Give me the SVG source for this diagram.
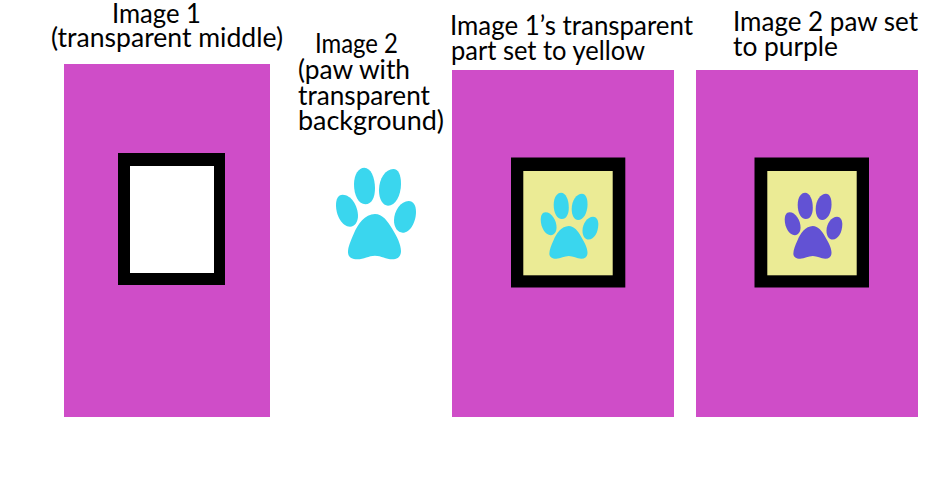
<svg xmlns="http://www.w3.org/2000/svg" width="936" height="495" viewBox="0 0 936 495">
<style>
.bg{fill:#cf4dc8}
.fr{fill:#000}
.y{fill:#ebeb95}
.t{font-family:"Lato","Open Sans",sans-serif;font-size:26px;fill:#000}
.cy{fill:#3ad6ee}
.pu{fill:#6252d4}
</style>
<defs>
<g id="paw">
<path d="M133 38C116 38 102 58 102 88C102 122 116 148 136 148C155 148 165 128 165 100C165 66 152 38 133 38Z"/>
<path d="M220 42C197 42 177 70 177 106C177 133 188 152 204 152C226 152 243 122 243 86C243 60 235 42 220 42Z"/>
<path d="M68 119C54 119 48 133 48 150C48 182 66 215 90 215C105 215 114 200 114 183C114 152 93 119 68 119Z"/>
<path d="M266 138C243 138 222 167 222 196C222 218 233 233 248 233C270 233 288 202 288 170C288 151 280 138 266 138Z"/>
<path d="M165 177C135 178 113 207 101 237C92 258 84 275 84 292C84 306 95 313 112 313C132 313 146 302 165 302C184 302 198 313 217 313C234 313 243 303 243 288C243 268 230 243 217 222C204 199 187 177 165 177Z"/>
</g>
</defs>
<rect width="936" height="495" fill="#fff"/>
<g id="image1">
<rect class="bg" x="64" y="64" width="206" height="353"/>
<rect class="fr" x="118" y="153" width="107" height="132"/>
<rect x="130" y="166" width="84" height="107" fill="#fff"/>
<text class="t" x="112" y="23" textLength="89" lengthAdjust="spacingAndGlyphs">Image 1</text>
<text class="t" x="51" y="47" textLength="232" lengthAdjust="spacingAndGlyphs">(transparent middle)</text>
</g>
<g id="image2">
<use href="#paw" class="cy" transform="translate(320 155) scale(.3333)"/>
<text class="t" x="315" y="53" textLength="83" lengthAdjust="spacingAndGlyphs">Image 2</text>
<text class="t" x="298" y="79" textLength="112" lengthAdjust="spacingAndGlyphs">(paw with</text>
<text class="t" x="298" y="105" textLength="132" lengthAdjust="spacingAndGlyphs">transparent</text>
<text class="t" x="298" y="130" textLength="146" lengthAdjust="spacingAndGlyphs">background)</text>
</g>
<g id="image3">
<rect class="bg" x="452" y="70" width="222" height="347"/>
<rect class="fr" x="511" y="157.500" width="114.300" height="130"/>
<rect class="y" x="523.300" y="171" width="89.400" height="104.300"/>
<use href="#paw" class="cy" transform="translate(529.200 183.600) scale(.24)"/>
<text class="t" x="450" y="35" textLength="243" lengthAdjust="spacingAndGlyphs">Image 1’s transparent</text>
<text class="t" x="451" y="60" textLength="194" lengthAdjust="spacingAndGlyphs">part set to yellow</text>
</g>
<g id="image4">
<rect class="bg" x="696" y="70" width="222" height="347"/>
<rect class="fr" x="754.500" y="157.500" width="114.500" height="130"/>
<rect class="y" x="767.300" y="171" width="89.400" height="104.300"/>
<use href="#paw" class="pu" transform="translate(773.200 183.600) scale(.24)"/>
<text class="t" x="733" y="31" textLength="185" lengthAdjust="spacingAndGlyphs">Image 2 paw set</text>
<text class="t" x="733" y="56" textLength="105" lengthAdjust="spacingAndGlyphs">to purple</text>
</g>
<g id="connectors"></g>
</svg>
